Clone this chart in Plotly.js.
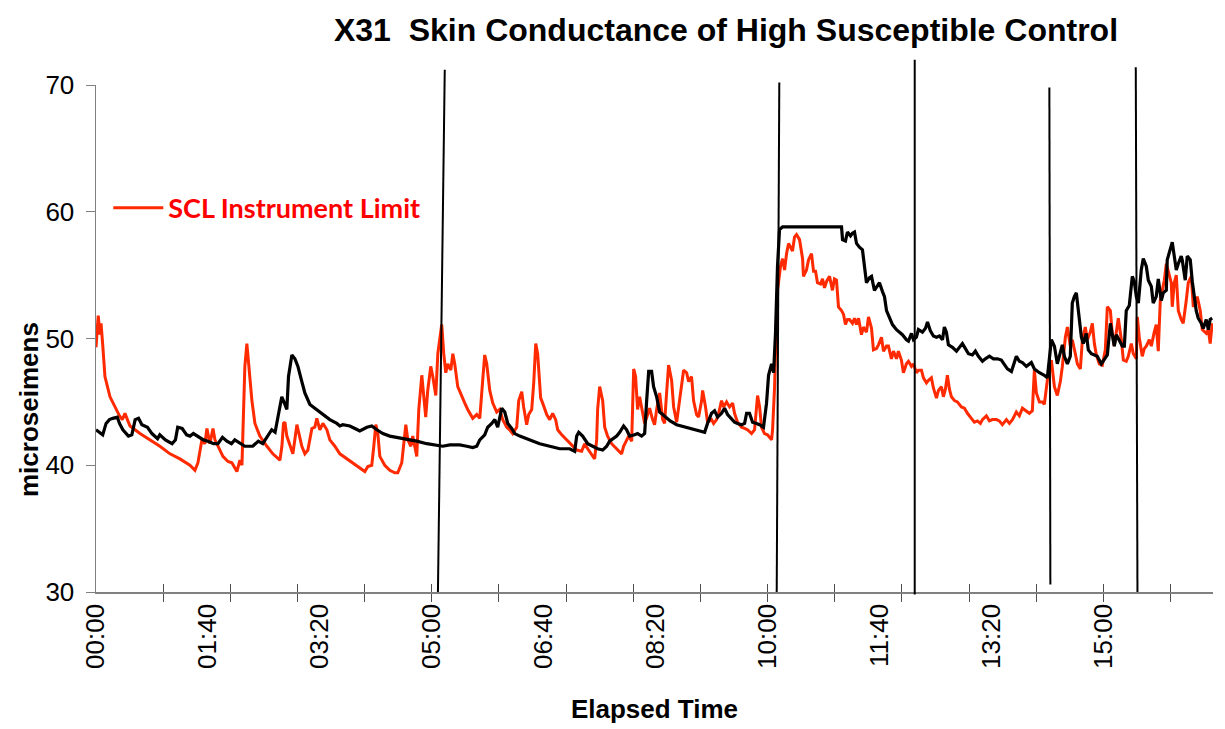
<!DOCTYPE html>
<html>
<head>
<meta charset="utf-8">
<script src="https://cdn.plot.ly/plotly-3.0.1.min.js"></script>
<style>html,body{margin:0;padding:0;background:#fff;}#chart{width:1225px;height:729px;}</style>
</head>
<body>
<div id="chart"></div>
<script>
// ---- data (seconds of elapsed time, microsiemens) ----
const blackT = [0,4,6,9,12,15,19,21,24,29,32,35,38,41,46,50,55,57,62,68,71,73,77,81,84,87,91,96,100,105,109,113,117,121,124,129,133,140,145,149,153,157,160,162.5,166,168.8,170.5,172,175,177.7,180.4,183.9,186.6,191.1,197.3,202.7,208.9,215.2,217.9,220.5,226.8,231.3,235.7,242,246.4,250.9,256.3,262.5,268.8,277.7,286.6,295.5,304.5,309.8,316.1,325,331.3,336.6,340.2,342.9,347.3,350,353.6,356.3,358.9,362.5,365.2,367.9,371.4,374.1,378.6,387.5,396.4,405.4,414.3,423.2,427.7,429.5,431.3,434.8,439.3,443.8,448.2,452.7,456.3,458.9,461.6,465.2,467.9,471.4,474.1,476.8,481.3,483.9,487.5,490.2,492,493.8,496.4,498.2,500.9,503.6,506.3,509.8,513,518.8,527.7,536.6,543.8,546.4,550,552.7,555.4,558.9,561.6,564.3,567.9,570.5,573.2,576.8,579.5,581.3,583.9,586.6,590.2,592.9,596.4,599.1,600.9,603.6,605.4,607.1,608.9,610.7,613.4,666.1,667,669.6,671.4,674.1,675.9,677.7,679.5,682.1,684.8,686.6,688.4,691.1,692.9,695.5,697.3,700,702.7,704.5,706.3,708.9,711.6,715.2,717.9,720.5,724.1,725.9,728.6,730.4,733,734.8,738.4,741.1,742.9,745.5,748.2,750.9,753.6,756.3,758,759.8,761.6,765.2,768.8,771.4,774.1,776.8,779.5,783,785.7,788.4,792,794.6,798.2,801.8,805.4,808.9,811.6,814.3,817.9,819.6,822.3,825,827.7,831.3,835.7,838.4,842.9,847.3,850,853.6,856.3,858.9,861.6,863.4,865.2,867.9,870.5,872.3,874.1,875.9,877.7,880.4,882.1,884.8,886.6,889.3,892,894.6,898.2,900.9,903.6,906.3,908,909.8,911.6,914.3,917,918.8,920.5,923.2,925.9,927.7,929.5,931.3,933.9,935.7,938.4,940.2,942.9,944.6,947.3,949.1,951.8,953.6,956.3,957.1,959.8,961.6,963.4,965.2,967,969.6,970.5,973.2,975,977.7,979.5,981.3,983,984.8,987.5,989.3,992,993.8,995.5,997.3];
const blackV = [42.8,42.5,42.4,43.3,43.6,43.7,43.8,43.3,42.8,42.3,42.4,43.6,43.7,43.2,43.0,42.5,42.1,42.4,42.0,41.7,42.0,43.0,42.9,42.4,42.3,42.5,42.3,42.0,41.9,41.7,41.7,42.2,41.9,41.7,42.0,41.7,41.5,41.5,41.9,41.7,42.3,42.8,42.6,43.8,45.4,44.8,44.4,47.0,48.7,48.4,47.8,46.6,45.7,44.8,44.4,44.0,43.6,43.3,43.1,43.2,43.1,42.9,42.7,43.0,43.1,42.8,42.5,42.3,42.2,42.0,41.9,41.7,41.6,41.5,41.6,41.6,41.5,41.4,41.5,42.0,42.4,43.0,43.3,43.6,43.0,44.5,44.2,43.3,42.9,42.5,42.3,42.0,41.7,41.5,41.3,41.3,41.1,42.3,42.6,42.3,41.7,41.5,41.3,41.2,41.5,41.9,42.1,42.3,42.6,43.1,42.8,42.3,42.4,42.5,42.3,42.5,45.1,47.4,47.4,46.2,45.4,44.2,44.0,43.7,43.5,43.2,43.0,42.8,42.6,43.3,44.1,44.3,43.8,44.1,44.5,44.0,43.7,43.4,43.3,43.2,43.3,44.1,44.1,43.4,43.3,43.2,43.0,44.9,47.1,48.0,47.3,50.4,55.7,58.6,58.8,58.8,57.8,57.7,58.4,58.1,58.3,58.4,57.5,57.2,57.0,55.4,54.4,54.8,54.9,53.8,54.0,54.4,53.7,53.3,52.2,51.7,51.1,50.7,50.5,50.3,49.9,49.8,50.4,49.9,50.1,50.7,50.5,50.8,51.3,50.6,50.2,50.1,50.2,49.9,50.9,50.5,49.5,49.3,49.0,49.3,49.6,49.2,48.8,48.7,49.0,48.6,48.2,48.4,48.6,48.4,48.4,48.3,48.0,47.6,47.4,47.9,48.6,48.2,48.1,47.8,48.1,47.6,47.3,47.1,46.9,49.9,49.4,48.0,48.8,49.5,48.6,48.0,48.6,52.8,53.3,53.6,52.2,50.1,49.6,50.4,49.1,48.8,48.7,48.6,48.0,48.3,48.7,51.2,50.4,49.4,50.3,49.9,49.4,49.4,52.2,52.6,54.9,54.5,53.3,52.8,55.4,56.3,55.7,54.6,54.1,52.8,53.3,54.7,53.0,53.6,53.8,56.2,57.1,57.6,56.5,55.4,55.9,56.5,56.2,54.6,56.5,56.2,54.5,53.3,52.2,51.6,51.2,50.8,51.5,50.7,51.5,51.6];

const redT = [0,2,3.5,4.5,6,8,12.5,17,21,23.5,25.9,28.5,30.4,39.3,48.2,57.1,66.1,75,83.9,88.4,91.1,94.6,97.3,99.1,101.8,104.5,106.3,108.9,113.4,117.9,121.4,125.9,128.6,130.4,131.3,133,134.8,136.6,139.3,142,146.4,152.7,158,164.3,166.1,167.5,168.8,170.5,173.2,175.9,179.5,181.3,183.9,186.6,189.3,192.9,195.5,197.3,200,202.7,206.3,208.9,213.4,217.9,224.1,229.5,235.7,240.2,242.9,246.4,248.2,250,251.8,253.6,258,262.5,267,269.6,273.2,275,276.8,278.6,281.3,283,284.8,286.6,288.4,291.1,292.9,294.6,296.4,299.1,300.9,303.6,305.4,307.1,308.9,310.7,312.5,314.3,317,318.8,320.5,323.2,326.8,329.5,332.1,334,336.6,340.2,342.9,345.5,347.3,349.1,351.8,354.5,358,360.7,363.4,367,369.6,372.3,375.9,377.7,380.4,382.1,384.8,386.6,389.3,391.1,392.9,394.6,397.3,399.1,402.7,405.4,408,410.7,412.5,416.1,420.5,425,429.5,433.9,436.6,439.3,442.9,445.5,447.3,448.2,450,452.7,454.5,457.1,460.7,465.2,469.6,471.4,474.1,475.9,478.6,480.4,482.1,483.9,485.7,487.5,490.2,492.9,494.6,497.3,499.1,500.9,503.6,506.3,508,509.8,511.6,514.3,516.1,518.8,520.5,523.2,525,527.7,529.5,532.1,533.9,536.6,538.4,541.1,542,544.6,546.4,550,551.8,554.5,556.3,558.9,560.7,563.4,566.1,568.8,570.5,573.2,576.8,579.5,582.1,585.7,588.4,591.1,592.9,594.6,597.3,600,603.6,604.5,606.3,608,608.9,611.6,613.4,615.2,617,618.8,621.4,622.3,624.1,625.9,628.6,631.3,632.1,634.8,636.6,639.3,641.1,642.9,644.6,647.3,649.1,650.9,652.7,655.4,658,659.8,661.6,663.4,666.1,667.9,669.6,671.4,673.2,675.9,677.7,679.5,681.3,683.9,685.7,688.4,690.2,692.9,694.6,697.3,699.1,701.8,703.6,706.3,708,710.7,712.5,715.2,716.9,719.6,721.4,724.1,725.9,728.6,730.4,733,734.8,737.5,739.3,742,743.8,746.4,748.2,750.9,752.7,755.4,757.1,758.9,760.7,762.5,764.3,767,769.6,773.2,775.9,778.6,782.1,784.8,787.5,790.2,792,795.5,798.2,800.9,804.5,807.1,809.8,813.4,816.1,818.8,822.3,825,827.7,831.3,833.9,836.6,838.4,840.2,842.9,845.5,847.3,850,853.6,856.3,858.9,861.6,863.4,866.1,867.9,870.5,872.3,875,876.8,879.5,881.3,883.9,885.7,888.4,890.2,892,893.8,896.4,899.1,901.8,903.6,906.3,908,909.8,911.6,913.4,916.1,917.9,920.5,922.3,925,926.8,929.5,930.4,932.1,934.8,936.6,938.4,941.1,942.9,945.5,947.3,949.1,950.9,952.7,954.5,956.3,958.9,960.7,961.6,963.4,965.2,967,969.6,971.4,974.1,975.9,978.6,980.4,982.1,983.9,986.6,988.4,992,993.8,995.5,997.3];
const redV = [49.3,51.8,50.3,51.2,49.5,47.0,45.4,44.6,43.9,43.6,44.1,43.5,43.1,42.5,42.0,41.5,40.9,40.5,40.0,39.6,40.2,42.0,41.7,42.9,41.7,42.9,42.0,41.5,40.7,40.3,40.2,39.5,40.4,40.0,42.5,47.8,49.6,47.8,45.1,43.3,42.3,41.5,40.9,40.4,41.5,43.3,43.4,42.3,41.5,40.9,43.2,42.5,41.5,40.9,41.2,42.9,43.0,43.7,42.8,43.3,42.8,42.0,41.5,40.9,40.5,40.2,39.8,39.5,39.9,40.0,41.5,43.2,42.5,40.7,40.0,39.6,39.4,39.4,40.2,41.7,43.2,42.0,41.5,42.3,41.5,40.7,44.4,47.1,45.4,43.8,45.9,47.8,47.0,45.5,48.8,49.9,51.1,48.8,47.3,48.0,47.5,48.8,48.0,46.2,45.4,44.9,44.4,44.1,43.7,44.0,43.7,46.7,48.7,48.0,45.9,44.9,44.2,44.4,43.6,43.0,42.8,42.5,43.0,45.1,45.8,44.6,43.2,44.0,44.4,46.5,49.6,48.8,45.3,44.9,44.0,43.6,44.1,43.6,42.8,42.4,42.0,41.6,41.2,41.1,41.7,41.3,40.8,40.5,42.0,44.4,46.2,45.1,43.0,42.3,41.7,41.3,40.9,41.5,42.0,42.3,41.9,47.6,47.0,44.4,45.4,44.6,43.3,44.0,44.5,43.6,43.2,44.4,45.7,43.6,43.3,45.7,47.9,46.7,44.6,43.4,44.6,46.7,47.5,47.3,46.6,47.0,45.1,44.0,43.8,45.1,45.9,44.6,43.4,43.6,43.3,43.6,44.1,45.1,44.6,45.0,44.6,44.9,44.1,43.4,43.0,42.9,42.8,42.5,42.8,45.5,44.6,43.0,42.5,42.4,42.0,42.8,46.2,51.7,53.8,55.7,56.3,55.4,56.7,57.5,57.0,56.9,58.0,58.2,57.8,56.3,54.9,55.4,56.2,56.7,55.3,55.3,54.4,54.3,54.7,54.0,54.5,54.9,53.8,54.7,54.6,52.5,52.2,51.9,51.1,51.5,51.5,51.2,51.6,51.1,51.6,50.3,50.9,50.5,51.7,50.8,49.1,49.2,49.5,50.1,49.0,49.4,49.4,48.4,49.0,48.4,49.0,48.3,47.3,48.0,48.2,47.8,48.0,47.3,47.5,47.5,46.9,46.5,46.7,46.9,46.1,45.3,45.9,46.2,45.4,46.0,47.1,46.0,45.4,45.1,45.0,44.6,44.5,44.1,43.7,43.4,43.5,43.3,43.6,43.9,43.5,43.6,43.6,43.5,43.2,43.6,43.3,43.6,44.2,43.9,44.5,44.3,44.1,44.3,47.5,45.7,45.0,45.0,44.8,46.7,48.3,46.2,45.5,46.6,47.8,50.1,50.9,49.4,49.9,48.8,48.0,47.6,49.9,50.9,49.9,50.5,51.2,49.6,48.7,48.0,47.9,49.1,52.5,52.2,50.4,49.4,50.7,51.6,49.9,48.3,48.2,48.6,49.6,48.8,48.4,51.7,50.1,48.6,49.2,49.4,49.9,49.4,50.5,51.1,49.0,53.0,53.8,54.6,55.9,55.1,54.4,52.5,54.4,55.0,52.2,51.5,51.2,53.0,54.4,54.9,52.5,52.8,53.3,52.2,50.7,50.4,50.7,49.6,51.2];

// event marker lines (time at bottom / top, value at bottom / top)
const eventTimeBottom = [305.5, 608.2, 731.5, 852.7, 930.5];
const eventTimeTop    = [311.6, 610.5, 731.5, 851.8, 929.0];
const eventValueBottom = [30, 30, 29.8, 30.6, 30];
const eventValueTop    = [71.2, 70.2, 72.0, 69.8, 71.4];

// axis ticks
const labelSeconds = [0,100,200,300,400,500,600,700,800,900];
const labelText = ['00:00','01:40','03:20','05:00','06:40','08:20','10:00','11:40','13:20','15:00'];
const tickSeconds = [0,60,120,180,240,300,360,420,480,540,600,660,720,780,840,900,960];
const yTickVals = [30,40,50,60,70];

const Y_RANGE = [30, 70];
const X_RANGE = [0, 998];

const AXIS_COLOR = '#808080';
const TICK_COLOR = '#4d4d4d';
const RED = '#ff2a00';

const traces = [
  {x: blackT, y: blackV, type: 'scatter', mode: 'lines', name: 'Skin Conductance',
   showlegend: false, line: {color: '#000000', width: 3.2}, xaxis: 'x2', yaxis: 'y'},
  {x: redT, y: redV, type: 'scatter', mode: 'lines', name: 'SCL Instrument Limit',
   line: {color: RED, width: 3}}
];

const toPaper = v => (v - Y_RANGE[0]) / (Y_RANGE[1] - Y_RANGE[0]);
const shapes = eventTimeBottom.map((tb, i) => ({
  type: 'line', xref: 'x', yref: 'paper',
  x0: tb, y0: toPaper(eventValueBottom[i]),
  x1: eventTimeTop[i], y1: toPaper(eventValueTop[i]),
  line: {color: '#000000', width: 2}
}));

const layout = {
  width: 1225, height: 729,
  paper_bgcolor: '#ffffff', plot_bgcolor: '#ffffff',
  margin: {l: 96, r: 12, t: 85, b: 137, pad: 0},
  font: {family: 'Liberation Sans, Arial, sans-serif', color: '#000000', size: 26},
  title: {text: 'X31  Skin Conductance of High Susceptible Control',
          font: {family: 'Liberation Sans, Arial, sans-serif', size: 32, color: '#000000', weight: 'bold'},
          x: 726/1225, xanchor: 'center', xref: 'container',
          y: 1 - 30/729, yanchor: 'middle', yref: 'container'},
  showlegend: true,
  legend: {x: 0.011, y: 0.757, xanchor: 'left', yanchor: 'middle',
           bgcolor: 'rgba(0,0,0,0)', borderwidth: 0, itemwidth: 50,
           font: {family: 'Lato, Liberation Sans, sans-serif', size: 27, color: '#ff0000', weight: 'bold'}},
  xaxis: {
    range: X_RANGE, type: 'linear',
    tickmode: 'array', tickvals: labelSeconds, ticktext: labelText,
    tickangle: -90, tickfont: {size: 26, color: '#000000'},
    ticks: 'inside', ticklen: 8, tickcolor: 'rgba(0,0,0,0)',
    minor: {tickmode: 'array', tickvals: tickSeconds, ticks: 'outside', ticklen: 8, tickwidth: 1, tickcolor: TICK_COLOR, showgrid: false},
    showline: true, linecolor: AXIS_COLOR, linewidth: 1.5,
    showgrid: false, zeroline: false,
    title: {text: 'Elapsed Time', font: {size: 26, color: '#000000', weight: 'bold'}, standoff: 32}
  },
  xaxis2: {
    range: X_RANGE, type: 'linear', overlaying: 'x', anchor: 'y', side: 'bottom',
    tickmode: 'array', tickvals: tickSeconds, showticklabels: false,
    ticks: 'inside', ticklen: 8, tickwidth: 1, tickcolor: TICK_COLOR,
    showline: false, showgrid: false, zeroline: false
  },
  yaxis: {
    range: Y_RANGE, tickmode: 'array', tickvals: yTickVals,
    tickfont: {size: 26, color: '#000000'}, ticklabelstandoff: 6,
    ticks: 'outside', ticklen: 9, tickwidth: 1, tickcolor: AXIS_COLOR,
    showline: true, linecolor: AXIS_COLOR, linewidth: 1.5,
    showgrid: false, zeroline: false
  },
  annotations: [{
    text: 'microseimens', xref: 'paper', yref: 'paper',
    x: (29 - 96) / 1117, y: (592 - 410) / 507, xanchor: 'center', yanchor: 'middle',
    textangle: -90, showarrow: false,
    font: {family: 'Liberation Sans, Arial, sans-serif', size: 26, color: '#000000', weight: 'bold'}
  }],
  shapes: shapes
};

Plotly.newPlot('chart', traces, layout, {displayModeBar: false, staticPlot: true});
</script>
</body>
</html>
